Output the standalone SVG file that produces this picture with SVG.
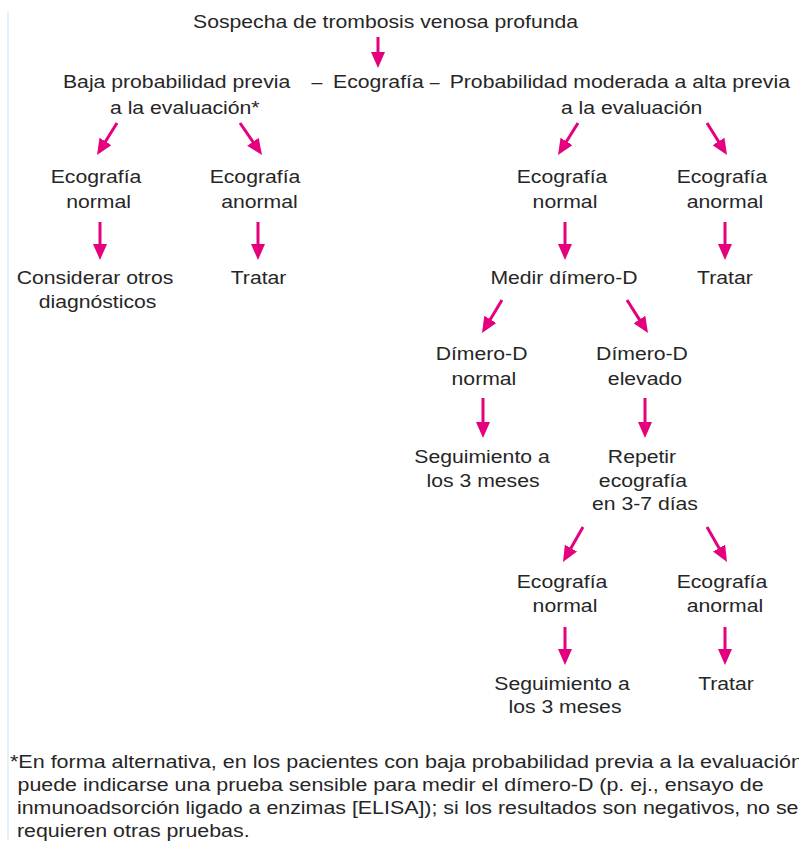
<svg xmlns="http://www.w3.org/2000/svg" width="799" height="843" viewBox="0 0 799 843">
<style>
text{font-family:"Liberation Sans",Arial,sans-serif;font-size:18.5px;fill:#262626}
.m{text-anchor:middle}
.c{stroke:#e5007e;stroke-width:3;fill:none;marker-end:url(#ah)}
</style>
<defs>
<marker id="ah" markerUnits="userSpaceOnUse" viewBox="0 -7 16 14" refX="1" refY="0" markerWidth="16" markerHeight="14" orient="auto">
<path d="M0,-7 L16,0 L0,7 z" fill="#e5007e"/>
</marker>
</defs>
<rect width="799" height="843" fill="#fff"/>
<line x1="8" y1="12" x2="8" y2="840" stroke="#e2f3fa" stroke-width="2"/>
<g id="connectors">
<line class="c" x1="378" y1="37" x2="378" y2="53"/>
<line class="c" x1="117" y1="123" x2="104.96" y2="142.27"/>
<line class="c" x1="240" y1="123" x2="253.5" y2="142.6"/>
<line class="c" x1="578" y1="123" x2="565.96" y2="142.27"/>
<line class="c" x1="707" y1="123" x2="719.04" y2="142.27"/>
<line class="c" x1="100" y1="222" x2="100" y2="245"/>
<line class="c" x1="258" y1="222" x2="258" y2="245"/>
<line class="c" x1="565" y1="222" x2="565" y2="245"/>
<line class="c" x1="725" y1="222" x2="725" y2="245"/>
<line class="c" x1="502" y1="300" x2="489.77" y2="320.2"/>
<line class="c" x1="627" y1="300" x2="639.94" y2="320.34"/>
<line class="c" x1="483" y1="398" x2="483" y2="423"/>
<line class="c" x1="645" y1="398" x2="645" y2="423"/>
<line class="c" x1="583" y1="527" x2="570.44" y2="548.98"/>
<line class="c" x1="707" y1="527" x2="719.56" y2="548.98"/>
<line class="c" x1="565" y1="627" x2="565" y2="650"/>
<line class="c" x1="725" y1="627" x2="725" y2="650"/>
</g>
<g id="nodes" transform="scale(1.146 1)">
<g id="n-sospecha"><text class="m" x="336.4" y="28">Sospecha de trombosis venosa profunda</text></g>
<g id="n-baja"><text x="54.97" y="88">Baja probabilidad previa</text><text x="96" y="114">a la evaluación*</text></g>
<g id="n-dash1"><text class="m" x="276.6" y="88" textLength="9.5" lengthAdjust="spacingAndGlyphs">—</text></g>
<g id="n-ecografia"><text x="290.6" y="88">Ecografía</text></g>
<g id="n-dash2"><text class="m" x="379.3" y="88" textLength="8.5" lengthAdjust="spacingAndGlyphs">—</text></g>
<g id="n-moderada"><text x="392.4" y="88">Probabilidad moderada a alta previa</text><text x="489.5" y="114">a la evaluación</text></g>
<g id="n-eco-normal-1"><text class="m" x="83.8" y="183">Ecografía</text><text class="m" x="86" y="208">normal</text></g>
<g id="n-eco-anormal-1"><text class="m" x="222.5" y="183">Ecografía</text><text class="m" x="226.4" y="208">anormal</text></g>
<g id="n-considerar"><text class="m" x="82.9" y="284">Considerar otros</text><text class="m" x="85.1" y="308">diagnósticos</text></g>
<g id="n-tratar-1"><text class="m" x="225.6" y="284">Tratar</text></g>
<g id="n-eco-normal-2"><text class="m" x="490.4" y="183">Ecografía</text><text class="m" x="493" y="208">normal</text></g>
<g id="n-eco-anormal-2"><text class="m" x="630" y="183">Ecografía</text><text class="m" x="632.6" y="208">anormal</text></g>
<g id="n-medir"><text class="m" x="492.1" y="284">Medir dímero-D</text></g>
<g id="n-tratar-2"><text class="m" x="632.6" y="284">Tratar</text></g>
<g id="n-dd-normal"><text class="m" x="420.2" y="360">Dímero-D</text><text class="m" x="422.3" y="385">normal</text></g>
<g id="n-dd-elevado"><text class="m" x="560.2" y="360">Dímero-D</text><text class="m" x="562.8" y="385">elevado</text></g>
<g id="n-seguimiento-1"><text class="m" x="420.6" y="463">Seguimiento a</text><text class="m" x="421.5" y="487">los 3 meses</text></g>
<g id="n-repetir"><text class="m" x="560.2" y="463">Repetir</text><text class="m" x="561.1" y="487">ecografía</text><text class="m" x="562.8" y="510">en 3-7 días</text></g>
<g id="n-eco-normal-3"><text class="m" x="490.4" y="588">Ecografía</text><text class="m" x="493" y="612">normal</text></g>
<g id="n-eco-anormal-3"><text class="m" x="630" y="588">Ecografía</text><text class="m" x="632.6" y="612">anormal</text></g>
<g id="n-seguimiento-2"><text class="m" x="490.4" y="690">Seguimiento a</text><text class="m" x="493" y="713">los 3 meses</text></g>
<g id="n-tratar-3"><text class="m" x="633.5" y="690">Tratar</text></g>
<g id="footnote">
<text x="8.7" y="768" textLength="692" lengthAdjust="spacingAndGlyphs">*En forma alternativa, en los pacientes con baja probabilidad previa a la evaluación</text>
<text x="15.27" y="791" textLength="651" lengthAdjust="spacingAndGlyphs">puede indicarse una prueba sensible para medir el dímero-D (p. ej., ensayo de</text>
<text x="14.8" y="814" textLength="682" lengthAdjust="spacingAndGlyphs">inmunoadsorción ligado a enzimas [ELISA]); si los resultados son negativos, no se</text>
<text x="14.8" y="837" textLength="203" lengthAdjust="spacingAndGlyphs">requieren otras pruebas.</text>
</g>
</g>
</svg>
